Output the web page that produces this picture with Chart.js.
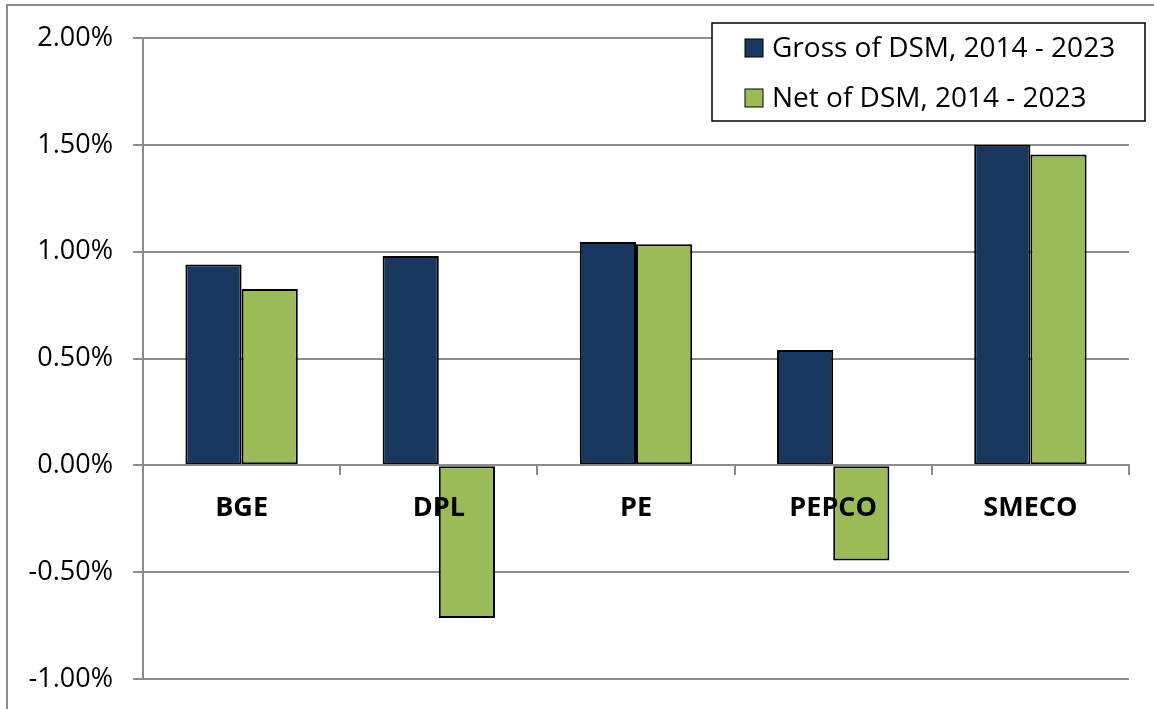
<!DOCTYPE html>
<html>
<head>
<meta charset="utf-8">
<script src="https://cdn.jsdelivr.net/npm/chart.js@4.4.1/dist/chart.umd.min.js"></script>
<style>
  html, body { margin: 0; padding: 0; background: #fff; overflow: hidden; }
  #wrap { position: relative; width: 1154px; height: 709px; overflow: hidden; }
  #frame { position: absolute; left: 6px; top: 4px; width: 1200px; height: 800px;
           border-left: 2px solid #8c8c8c; border-top: 2px solid #8c8c8c; }
  #chart { position: absolute; left: 0; top: 0; }
</style>
</head>
<body>
<div id="wrap">
  <div id="frame"></div>
  <canvas id="chart" width="1154" height="709"></canvas>
</div>
<script>
const utilities = ['BGE', 'DPL', 'PE', 'PEPCO', 'SMECO'];
const grossOfDsm = [0.94, 0.98, 1.045, 0.54, 1.50];
const netOfDsm = [0.825, -0.715, 1.035, -0.445, 1.455];
const seriesNames = ['Gross of DSM, 2014 - 2023', 'Net of DSM, 2014 - 2023'];

const gridGray = '#8c8c8c';
const fontFamily = '"Open Sans", "DejaVu Sans", sans-serif';

// legend drawn as a box floating over the top-right of the plot
const legendBox = {
    id: 'legendBox',
    afterDraw(chart) {
        const ctx = chart.ctx;
        const x = 712, y = 23, w = 433, h = 98;
        ctx.save();
        ctx.fillStyle = '#fff';
        ctx.fillRect(x, y, w, h);
        ctx.strokeStyle = '#000';
        ctx.lineWidth = 1.5;
        ctx.strokeRect(x, y, w, h);
        ctx.font = '28px ' + fontFamily;
        ctx.textBaseline = 'middle';
        chart.data.datasets.forEach((ds, i) => {
            const cy = y + 25 + i * 50;
            ctx.fillStyle = ds.backgroundColor;
            ctx.fillRect(x + 33, cy - 9, 18, 18);
            ctx.lineWidth = 1;
            ctx.strokeRect(x + 33, cy - 9, 18, 18);
            ctx.fillStyle = '#000';
            ctx.fillText(ds.label, x + 60, cy + 1);
        });
        ctx.restore();
    }
};

new Chart(document.getElementById('chart'), {
    type: 'bar',
    data: {
        labels: utilities,
        datasets: [{
            label: seriesNames[0],
            data: grossOfDsm,
            backgroundColor: '#17375e',
            borderColor: '#000',
            borderWidth: 2,
            borderSkipped: false
        }, {
            label: seriesNames[1],
            data: netOfDsm,
            backgroundColor: '#9bbb59',
            borderColor: '#000',
            borderWidth: 2,
            borderSkipped: false
        }]
    },
    options: {
        responsive: false,
        animation: false,
        categoryPercentage: 0.57,
        barPercentage: 1.0,
        layout: {
            padding: { left: 0, right: 25, top: 38, bottom: 30 }
        },
        plugins: {
            legend: { display: false },
            tooltip: { enabled: false }
        },
        scales: {
            x: {
                position: { y: 0 },
                afterFit(scale) { scale.height = 0; },
                grid: {
                    display: true,
                    drawOnChartArea: false,
                    drawTicks: true,
                    tickLength: 9,
                    color: gridGray,
                    lineWidth: 2,
                    offset: true
                },
                border: { display: true, color: gridGray, width: 2 },
                ticks: {
                    z: 1,
                    color: '#000',
                    padding: 18,
                    font: { family: fontFamily, size: 27, weight: 'bold' }
                }
            },
            y: {
                min: -1,
                max: 2,
                afterFit(scale) {
                    scale.width = 143;
                    scale.paddingTop = 0;
                    scale.paddingBottom = 0;
                },
                ticks: {
                    stepSize: 0.5,
                    color: '#000',
                    padding: 20,
                    font: { family: fontFamily, size: 27 },
                    callback: v => v.toFixed(2) + '%'
                },
                grid: {
                    color: gridGray,
                    lineWidth: 2,
                    drawTicks: true,
                    tickLength: 10
                },
                border: { display: true, color: gridGray, width: 2 }
            }
        }
    },
    plugins: [legendBox]
});
</script>
</body>
</html>
